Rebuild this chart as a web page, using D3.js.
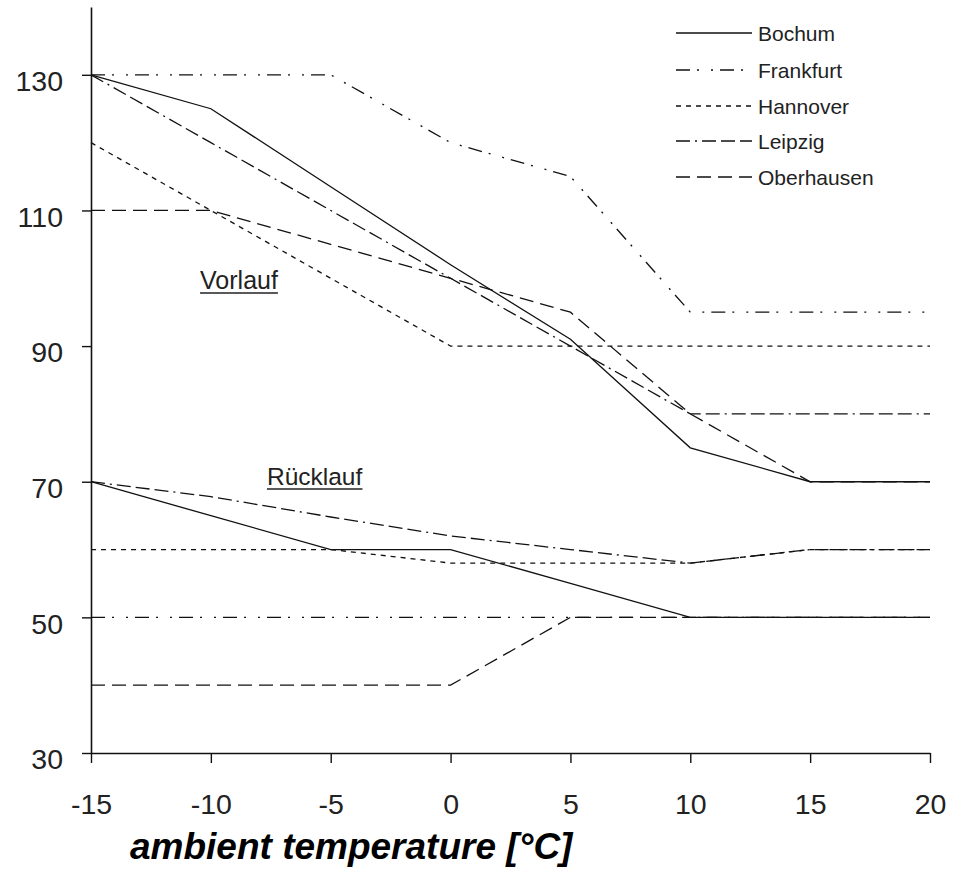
<!DOCTYPE html>
<html>
<head>
<meta charset="utf-8">
<script src="https://cdn.jsdelivr.net/npm/d3@7"></script>
<style>
  html, body { margin: 0; padding: 0; background: #fff; }
  svg { display: block; font-family: Arial, "Liberation Sans", sans-serif; }
</style>
</head>
<body>
<svg id="chart" width="969" height="873"></svg>
<script>
// ---- data ----
const temps = [-15, -10, -5, 0, 5, 10, 15, 20];
const xTicks = [-15, -10, -5, 0, 5, 10, 15, 20];
const yTicks = [30, 50, 70, 90, 110, 130];

const cities = ["Bochum", "Frankfurt", "Hannover", "Leipzig", "Oberhausen"];

// Vorlauf (supply temperature)
const bochumV     = [130, 125, 113.5, 102, 91, 75, 70, 70];
const frankfurtV  = [130, 130, 130, 120, 115, 95, 95, 95];
const hannoverV   = [120, 110, 100, 90, 90, 90, 90, 90];
const leipzigV    = [130, 120, 110, 100, 90, 80, 80, 80];
const oberhausenV = [110, 110, 105, 100, 95, 80, 70, 70];

// Rücklauf (return temperature)
const bochumR     = [70, 65, 60, 60, 55, 50, 50, 50];
const frankfurtR  = [50, 50, 50, 50, 50, 50, 50, 50];
const hannoverR   = [60, 60, 60, 58, 58, 58, 60, 60];
const leipzigR    = [70, 67.8, 64.8, 62, 60, 58, 60, 60];
const oberhausenR = [40, 40, 40, 40, 50, 50, 50, 50];

const labels = ["Vorlauf", "Rücklauf"];
const labelX = [-10.45, -7.66];
const labelY = [98.4, 69.5];
const xTitle = "ambient temperature [°C]";

// ---- styles ----
const dashes = {
  Bochum: null,
  Frankfurt: "14,7,2,12,2,7",
  Hannover: "5,5",
  Leipzig: "14,5,2,5,14,5,14,5",
  Oberhausen: "14,7"
};

const series = [
  { name: "Bochum", values: bochumV },
  { name: "Frankfurt", values: frankfurtV },
  { name: "Hannover", values: hannoverV },
  { name: "Leipzig", values: leipzigV },
  { name: "Oberhausen", values: oberhausenV },
  { name: "Bochum", values: bochumR },
  { name: "Frankfurt", values: frankfurtR },
  { name: "Hannover", values: hannoverR },
  { name: "Leipzig", values: leipzigR },
  { name: "Oberhausen", values: oberhausenR }
];

const svg = d3.select("#chart");
const x = d3.scaleLinear().domain([-15, 20]).range([91, 930]);
const y = d3.scaleLinear().domain([30, 140]).range([753, 7]);

// axes
const xAxis = d3.axisBottom(x).tickValues(xTicks).tickSize(10).tickSizeOuter(0).tickPadding(31)
  .tickFormat(d => d);
const gx = svg.append("g").attr("transform", `translate(0,${y(30)})`).call(xAxis);
gx.select(".domain").attr("stroke", "#111").attr("stroke-width", 1.6);
gx.selectAll(".tick line").attr("stroke", "#111").attr("stroke-width", 1.4);
gx.selectAll(".tick text").attr("font-size", 28.5).attr("fill", "#222")
  .attr("font-family", "Arial, 'Liberation Sans', sans-serif");

const yAxis = d3.axisLeft(y).tickValues(yTicks).tickSize(9).tickSizeOuter(0).tickPadding(19);
const gy = svg.append("g").attr("transform", `translate(${x(-15)},0)`).call(yAxis);
gy.select(".domain").attr("stroke", "#111").attr("stroke-width", 1.6);
gy.selectAll(".tick line").attr("stroke", "#111").attr("stroke-width", 1.4);
gy.selectAll(".tick text").attr("font-size", 28.5).attr("fill", "#222")
  .attr("font-family", "Arial, 'Liberation Sans', sans-serif").attr("dy", "0.55em");

// lines
const line = d3.line().x((d, i) => x(temps[i])).y(d => y(d));
svg.append("g").selectAll("path").data(series).join("path")
  .attr("d", d => line(d.values))
  .attr("fill", "none")
  .attr("stroke", "#111")
  .attr("stroke-width", 1.3)
  .attr("stroke-dasharray", d => dashes[d.name]);

// legend
const lg = svg.append("g");
const legendY = [33, 70, 106, 141, 177];
cities.forEach((c, i) => {
  lg.append("line").attr("x1", 676).attr("x2", 752)
    .attr("y1", legendY[i]).attr("y2", legendY[i])
    .attr("stroke", "#111").attr("stroke-width", 1.6)
    .attr("stroke-dasharray", dashes[c]);
  lg.append("text").attr("x", 758).attr("y", legendY[i] + 8)
    .attr("font-size", 21).attr("fill", "#222").text(c);
});

// annotations
const annSize = [25, 24.5];
labels.forEach((txt, i) => {
  const t = svg.append("text").attr("x", x(labelX[i])).attr("y", y(labelY[i]))
    .attr("font-size", annSize[i]).attr("fill", "#222").text(txt);
  const bb = t.node().getBBox();
  svg.append("line").attr("x1", bb.x).attr("x2", bb.x + bb.width)
    .attr("y1", y(labelY[i]) + 4).attr("y2", y(labelY[i]) + 4)
    .attr("stroke", "#222").attr("stroke-width", 1.5);
});

// x-axis title
svg.append("text").attr("x", 130).attr("y", 859)
  .attr("font-size", 37).attr("font-weight", "bold").attr("font-style", "italic")
  .attr("fill", "#000").text(xTitle);
</script>
</body>
</html>
